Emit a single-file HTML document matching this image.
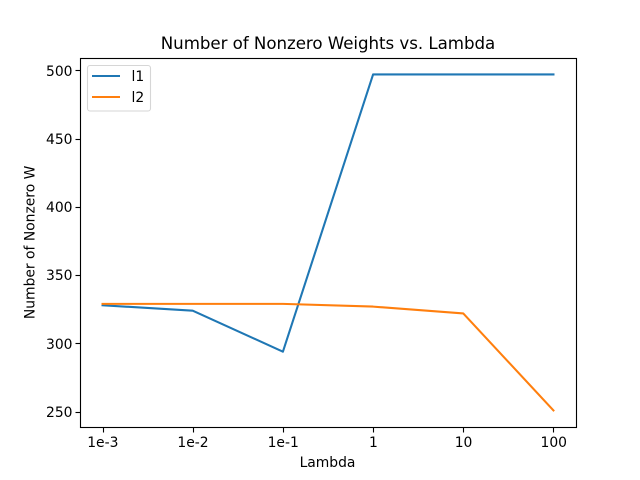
<!DOCTYPE html>
<html>
<head>
<meta charset="utf-8">
<title>Number of Nonzero Weights vs. Lambda</title>
<style>
html,body{margin:0;padding:0;background:#fff;width:640px;height:480px;overflow:hidden}
svg{display:block}
text{font-family:"DejaVu Sans",sans-serif;fill:#000}
</style>
</head>
<body>
<svg id="chart" xmlns="http://www.w3.org/2000/svg" width="640" height="480" viewBox="0 0 640 480">
  <rect x="0" y="0" width="640" height="480" fill="#fff"/>
  <text x="328" y="49" font-size="16.67" text-anchor="middle" textLength="334.5" lengthAdjust="spacing">Number of Nonzero Weights vs. Lambda</text>
  <text x="327.5" y="467" font-size="13.89" text-anchor="middle">Lambda</text>
  <text transform="translate(34.5 242.4) rotate(-90)" font-size="13.89" text-anchor="middle">Number of Nonzero W</text>
  <g id="ticks"></g>
  <g id="series"></g>
  <rect x="80.5" y="58.5" width="496" height="369" fill="none" stroke="#000" stroke-width="1.11"/>
  <g>
    <rect x="87.5" y="65.5" width="63" height="45.5" rx="2.5" fill="#fff" fill-opacity="0.8" stroke="#d6d6d6" stroke-width="1.11"/>
    <line x1="92" y1="76" x2="120" y2="76" stroke="#1f77b4" stroke-width="2.08"/>
    <text x="131.5" y="81" font-size="13.89">l1</text>
    <line x1="92" y1="97" x2="120" y2="97" stroke="#ff7f0e" stroke-width="2.08"/>
    <text x="131.5" y="102" font-size="13.89">l2</text>
  </g>
</svg>
<script>
const categories = ["1e-3", "1e-2", "1e-1", "1", "10", "100"];
const l1Values = [328, 324, 294, 497, 497, 497];
const l2Values = [329, 329, 329, 327, 322, 251];
const yTickLabels = [250, 300, 350, 400, 450, 500];

const NS = "http://www.w3.org/2000/svg";
const plot = { left: 80, right: 576, top: 57.6, bottom: 427.2 };
const allValues = l1Values.concat(l2Values);
const dataMin = Math.min.apply(null, allValues);
const dataMax = Math.max.apply(null, allValues);
const yPad = (dataMax - dataMin) * 0.05;
const yLow = dataMin - yPad;
const yHigh = dataMax + yPad;
const xPad = (categories.length - 1) * 0.05;

function xScale(i) {
  return plot.left + (i + xPad) / (categories.length - 1 + 2 * xPad) * (plot.right - plot.left);
}
function yScale(v) {
  return plot.bottom - (v - yLow) / (yHigh - yLow) * (plot.bottom - plot.top);
}
function snap(p) {
  return Math.floor(p + 0.5) + 0.5;
}
function make(tag, attrs) {
  const el = document.createElementNS(NS, tag);
  Object.keys(attrs).forEach(function (k) { el.setAttribute(k, attrs[k]); });
  return el;
}

const ticks = document.getElementById("ticks");
categories.forEach(function (label, i) {
  const x = xScale(i);
  const sx = snap(x);
  const tick = make("line", { x1: sx, x2: sx, y1: snap(plot.bottom), y2: snap(plot.bottom + 4.86), stroke: "#000", "stroke-width": 1.11 });
  
  
  ticks.appendChild(tick);
  const text = make("text", { x: x + 0.3, y: 447, "font-size": 13.89, "text-anchor": "middle" });
  
  
  text.textContent = label;
  ticks.appendChild(text);
});
yTickLabels.forEach(function (value) {
  const y = yScale(value);
  const sy = snap(y);
  const tick = make("line", { x1: snap(plot.left - 4.86), x2: snap(plot.left), y1: sy, y2: sy, stroke: "#000", "stroke-width": 1.11 });
  
  
  ticks.appendChild(tick);
  const text = make("text", { x: plot.left - 7.5, y: Math.round(y + 5.2), "font-size": 13.89, "text-anchor": "end" });
  
  
  text.textContent = value;
  ticks.appendChild(text);
});

function pointsFor(values) {
  return values.map(function (v, i) { return xScale(i).toFixed(2) + "," + yScale(v).toFixed(2); }).join(" ");
}
const series = document.getElementById("series");
const lineL1 = make("polyline", { points: pointsFor(l1Values), fill: "none", stroke: "#1f77b4", "stroke-width": 2.08, "stroke-linejoin": "round", "stroke-linecap": "square" });


series.appendChild(lineL1);
const lineL2 = make("polyline", { points: pointsFor(l2Values), fill: "none", stroke: "#ff7f0e", "stroke-width": 2.08, "stroke-linejoin": "round", "stroke-linecap": "square" });


series.appendChild(lineL2);
</script>
</body>
</html>
